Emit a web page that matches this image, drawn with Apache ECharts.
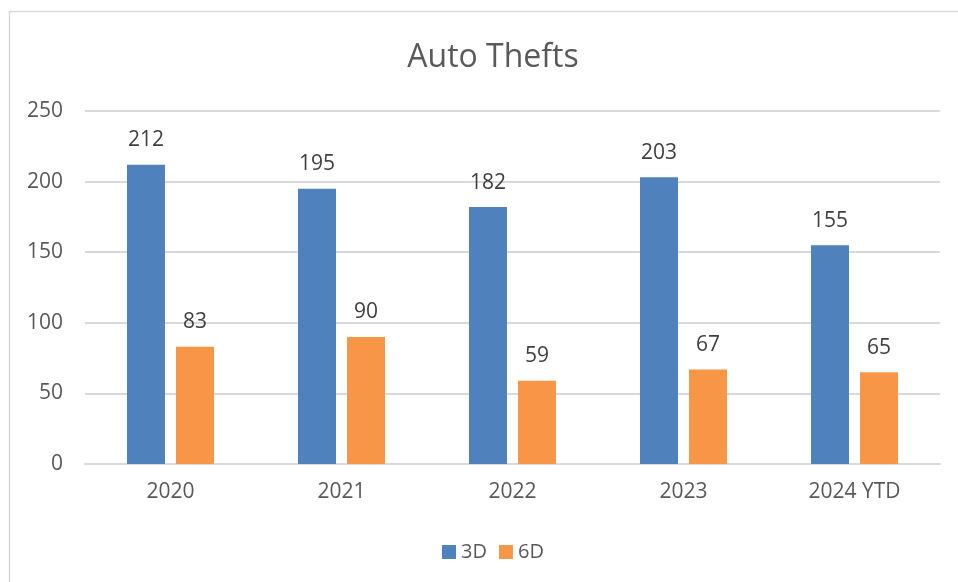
<!DOCTYPE html>
<html><head><meta charset="utf-8">
<script src="https://cdn.jsdelivr.net/npm/echarts@6/dist/echarts.min.js"></script>
<style>html,body{margin:0;padding:0;background:#fff}#c{width:958px;height:582px}</style>
</head><body><div id="c"></div>
<script>
const categories = ['2020', '2021', '2022', '2023', '2024 YTD'];
const series3D = [212, 195, 182, 203, 155];
const series6D = [83, 90, 59, 67, 65];
const yTicks = [0, 50, 100, 150, 200, 250];

const chart = echarts.init(document.getElementById('c'), null, {renderer: 'canvas'});
const font = '"Open Sans", "Noto Sans", sans-serif';
const lbl = {show: true, position: 'top', distance: 14, fontSize: 21, color: '#404040', fontFamily: font};
chart.setOption({
  animation: false,
  graphic: [{type: 'rect', shape: {x: 9.5, y: 11.5, width: 1000, height: 600}, style: {fill: 'none', stroke: '#d9d9d9', lineWidth: 1.5}, silent: true}],
  title: {text: 'Auto Thefts', left: 488, textAlign: 'center', top: 37, textStyle: {fontSize: 32, fontWeight: 'normal', color: '#595959', fontFamily: font}},
  legend: {top: 537, left: 437, itemWidth: 14, itemHeight: 14, itemGap: 12, icon: 'rect', textStyle: {fontSize: 20, color: '#595959', fontFamily: font}, data: ['3D', '6D']},
  grid: {left: 85, right: 18, top: 111, bottom: 118},
  xAxis: {type: 'category', data: categories, axisTick: {show: false}, axisLine: {lineStyle: {color: '#d9d9d9', width: 2}}, axisLabel: {fontSize: 21, color: '#595959', margin: 18, fontFamily: font}},
  yAxis: {type: 'value', min: 0, max: yTicks[yTicks.length - 1], interval: 50, axisLine: {show: false}, axisTick: {show: false}, splitLine: {lineStyle: {color: '#d9d9d9', width: 2}}, axisLabel: {fontSize: 21, color: '#595959', margin: 22, fontFamily: font}},
  series: [
    {name: '3D', type: 'bar', data: series3D, barWidth: 38, barGap: '29%', itemStyle: {color: '#4F81BD'}, label: lbl},
    {name: '6D', type: 'bar', data: series6D, barWidth: 38, barGap: '29%', itemStyle: {color: '#F79646'}, label: lbl}
  ]
});
</script></body></html>
